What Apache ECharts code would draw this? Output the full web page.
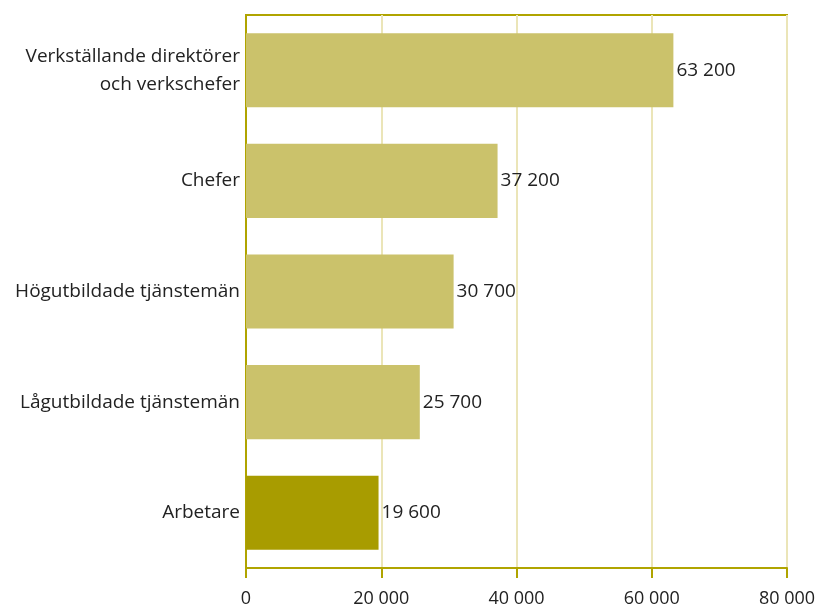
<!DOCTYPE html>
<html>
<head>
<meta charset="utf-8">
<script src="https://cdn.jsdelivr.net/npm/echarts@6/dist/echarts.min.js"></script>
<style>
  html, body { margin: 0; padding: 0; background: #fff; }
  #chart { width: 821px; height: 610px; }
</style>
</head>
<body>
<div id="chart"></div>
<script>
var categories = ['Verkställande direktörer\noch verkschefer', 'Chefer', 'Högutbildade tjänstemän', 'Lågutbildade tjänstemän', 'Arbetare']
var values = [63200, 37200, 30700, 25700, 19600]
var barColors = ['#cbc26b', '#cbc26b', '#cbc26b', '#cbc26b', '#a89c00']

// tusental med mellanslag
function fmt(v) {
  return String(v).replace(/\B(?=(\d{3})+(?!\d))/g, ' ')
}

var myChart = echarts.init(document.getElementById('chart'))
var option = {
  animation: false,
  textStyle: { fontFamily: 'Open Sans' },
  grid: {
    left: 246,
    right: 34,
    top: 15,
    bottom: 42,
    show: true,
    borderColor: '#b0a400',
    borderWidth: 2
  },
  xAxis: {
    type: 'value',
    min: 0,
    max: 80000,
    interval: 20000,
    axisLine: { show: true, lineStyle: { color: '#b0a400', width: 2 } },
    axisTick: { show: true, length: 10, lineStyle: { color: '#b0a400', width: 2 } },
    axisLabel: {
      color: '#222',
      fontSize: 18,
      margin: 22,
      formatter: function(v) { return fmt(v) }
    },
    splitLine: { lineStyle: { color: '#ebe5b8', width: 2 } }
  },
  yAxis: {
    type: 'category',
    data: categories,
    inverse: true,
    axisLine: { show: true, lineStyle: { color: '#b0a400', width: 2 } },
    axisTick: { show: false },
    axisLabel: {
      color: '#222',
      fontSize: 19,
      margin: 6,
      lineHeight: 28,
      align: 'right'
    }
  },
  series: [
    {
      type: 'bar',
      barWidth: '67%',
      data: values.map(function(v, i) {
        return { value: v, itemStyle: { color: barColors[i] } }
      }),
      label: {
        show: true,
        position: 'right',
        distance: 3,
        color: '#222',
        fontSize: 19,
        formatter: function(p) { return fmt(p.value) }
      }
    }
  ]
}
myChart.setOption(option)
window.addEventListener('resize', function() {
  myChart.resize()
})
</script>
</body>
</html>
